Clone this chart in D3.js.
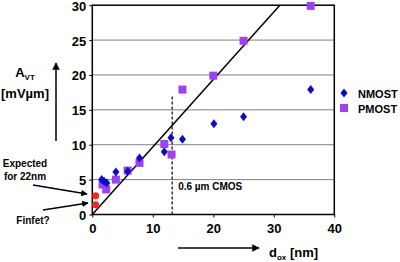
<!DOCTYPE html>
<html><head><meta charset="utf-8">
<script src="https://cdn.jsdelivr.net/npm/d3@7"></script>
<style>body{margin:0;background:#fff}svg{display:block;font-family:"Liberation Sans",Arial,sans-serif;font-weight:bold}</style>
</head><body>
<svg id="c" width="400" height="262"></svg>
<script>
const xTicks = [0, 10, 20, 30, 40];
const yTicks = [0, 5, 10, 15, 20, 25, 30];
const nmost = [[1.55,5.0],[1.95,4.75],[2.4,4.5],[3.9,6.1],[5.85,6.2],[7.8,8.1],[11.9,9.0],[13.0,11.0],[14.9,10.8],[20.1,13.0],[25.0,14.0],[36.1,17.9]];
const pmost = [[1.7,4.3],[2.3,3.6],[3.9,5.0],[5.85,6.3],[7.8,7.4],[11.9,10.1],[13.1,8.6],[14.9,17.9],[20.0,19.9],[25.0,24.9],[36.1,29.9]];
const finfet = [[0.55,2.7],[0.55,1.4]];
const fitLine = [[0,0],[31,30]];
const cmosX = 13.2, cmosTop = 17.0;
const seriesNames = ["NMOST","PMOST"];

const svg = d3.select("#c");
const x = d3.scaleLinear().domain([0,40]).range([92.3,334.3]);
const y = d3.scaleLinear().domain([0,30]).range([214.5,5.2]);

const defs = svg.append("defs");
defs.append("marker").attr("id","ah").attr("viewBox","0 0 10 10").attr("refX",9).attr("refY",5)
  .attr("markerWidth",5).attr("markerHeight",5).attr("orient","auto")
  .append("path").attr("d","M0,0L10,5L0,10z").attr("fill","#000");

// gridlines
svg.append("g").selectAll("line").data(yTicks.filter(d=>d>0&&d<30)).join("line")
  .attr("x1",x(0)).attr("x2",x(40)).attr("y1",d=>y(d)).attr("y2",d=>y(d))
  .attr("stroke","#808080").attr("stroke-width",1);

// axes
const yAx = svg.append("g").attr("transform",`translate(${x(0)},0)`)
  .call(d3.axisLeft(y).tickValues(yTicks).tickSize(3).tickPadding(3));
yAx.select(".domain").remove();
yAx.selectAll("text").attr("font-size",13).attr("font-weight","bold").attr("font-family","Liberation Sans, Arial").attr("dy","0.38em");
const xAx = svg.append("g").attr("transform",`translate(0,${y(0)})`)
  .call(d3.axisBottom(x).tickValues(xTicks).tickSize(3).tickPadding(6));
xAx.select(".domain").remove();
xAx.selectAll("text").attr("font-size",13).attr("font-weight","bold").attr("font-family","Liberation Sans, Arial");

// frame
svg.append("rect").attr("x",x(0)).attr("y",y(30)).attr("width",x(40)-x(0)).attr("height",y(0)-y(30))
  .attr("fill","none").attr("stroke","#000").attr("stroke-width",1.5);

// fit line
svg.append("line").attr("x1",x(fitLine[0][0])).attr("y1",y(fitLine[0][1]))
  .attr("x2",x(fitLine[1][0])).attr("y2",y(fitLine[1][1])).attr("stroke","#000").attr("stroke-width",1.5);

// dashed CMOS
svg.append("line").attr("x1",x(cmosX)).attr("x2",x(cmosX)).attr("y1",y(0)).attr("y2",y(cmosTop))
  .attr("stroke","#000").attr("stroke-width",1.2).attr("stroke-dasharray","3,2");
svg.append("text").attr("x",x(cmosX)+6).attr("y",190).attr("font-size",10).text("0.6 µm CMOS");

// points
const diamond = "M0,-4.5L3.5,0L0,4.5L-3.5,0Z";
svg.append("g").selectAll("rect").data(pmost).join("rect")
  .attr("x",d=>x(d[0])-4).attr("y",d=>y(d[1])-4).attr("width",8).attr("height",8).attr("fill","#A040F0");
svg.append("g").selectAll("path").data(nmost).join("path")
  .attr("d",diamond).attr("transform",d=>`translate(${x(d[0])},${y(d[1])})`).attr("fill","#0A0ACC");
svg.append("g").selectAll("circle").data(finfet).join("circle")
  .attr("cx",d=>x(d[0])).attr("cy",d=>y(d[1])).attr("r",3.5).attr("fill","#FF2020");

// legend
svg.append("path").attr("d",diamond).attr("transform","translate(344,93)").attr("fill","#0A0ACC");
svg.append("rect").attr("x",340).attr("y",104).attr("width",8).attr("height",8).attr("fill","#A040F0");
svg.append("text").attr("x",358).attr("y",97.5).attr("font-size",11).text(seriesNames[0]);
svg.append("text").attr("x",358).attr("y",112.5).attr("font-size",11).text(seriesNames[1]);

// y label
const yl = svg.append("text").attr("x",25).attr("y",77).attr("text-anchor","middle").attr("font-size",13);
yl.append("tspan").text("A");
yl.append("tspan").attr("font-size",8).attr("dy",3).text("VT");
svg.append("text").attr("x",25).attr("y",98).attr("text-anchor","middle").attr("font-size",13).text("[mVµm]");
svg.append("line").attr("x1",56).attr("x2",56).attr("y1",141).attr("y2",63)
  .attr("stroke","#000").attr("stroke-width",1.5).attr("marker-end","url(#ah)");

// x label
const xl = svg.append("text").attr("x",269).attr("y",257).attr("font-size",13);
xl.append("tspan").text("d");
xl.append("tspan").attr("font-size",8).attr("dy",3).text("ox");
xl.append("tspan").attr("dy",-3).text(" [nm]");
svg.append("line").attr("x1",178).attr("x2",259).attr("y1",248).attr("y2",248)
  .attr("stroke","#000").attr("stroke-width",1.5).attr("marker-end","url(#ah)");

// annotations
svg.append("text").attr("x",25).attr("y",167).attr("text-anchor","middle").attr("font-size",10).text("Expected");
svg.append("text").attr("x",25).attr("y",180).attr("text-anchor","middle").attr("font-size",10).text("for 22nm");
svg.append("text").attr("x",33).attr("y",224).attr("text-anchor","middle").attr("font-size",10).text("Finfet?");
svg.append("line").attr("x1",33).attr("y1",185).attr("x2",87).attr("y2",194)
  .attr("stroke","#000").attr("stroke-width",1.3).attr("marker-end","url(#ah)");
svg.append("line").attr("x1",43).attr("y1",210).attr("x2",88).attr("y2",203)
  .attr("stroke","#000").attr("stroke-width",1.3).attr("marker-end","url(#ah)");
</script>
</body></html>
